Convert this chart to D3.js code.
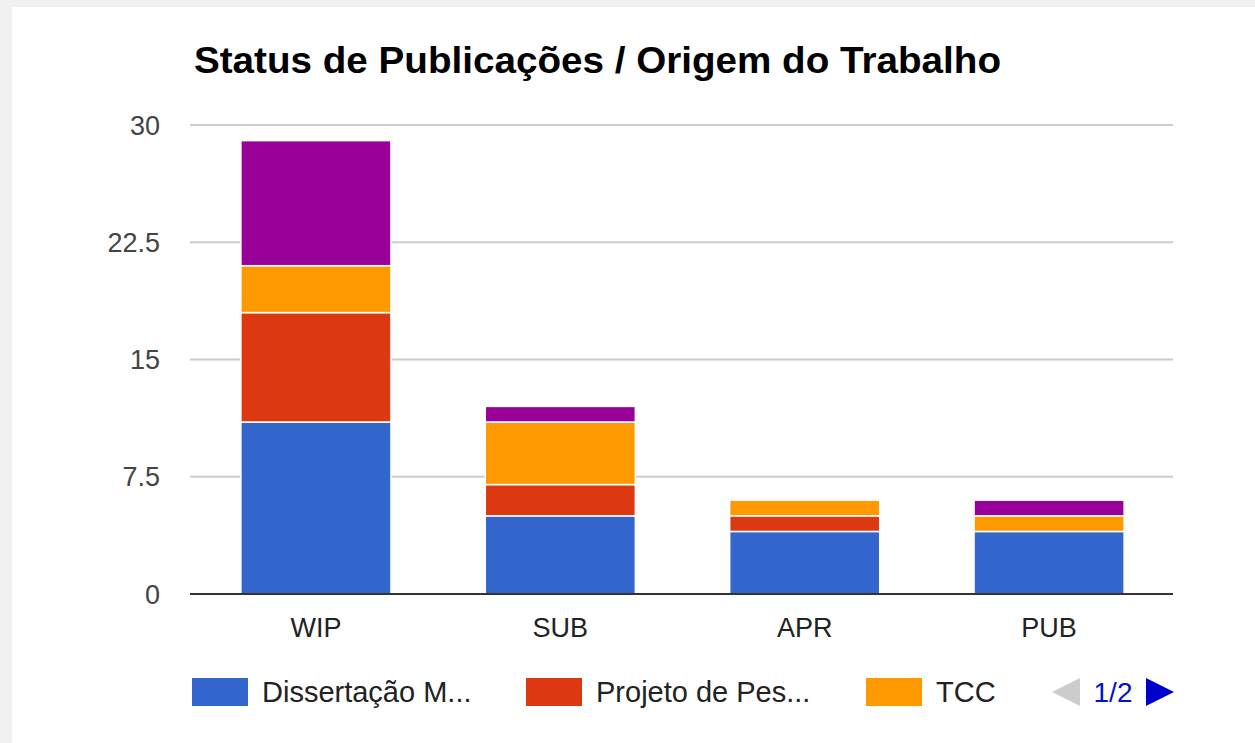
<!DOCTYPE html>
<html>
<head>
<meta charset="utf-8">
<script src="https://cdn.jsdelivr.net/npm/d3@7"></script>
<style>
  html, body { margin: 0; padding: 0; background: #f1f1f1; }
  svg { display: block; font-family: "Liberation Sans", Arial, sans-serif; }
</style>
</head>
<body>
<div id="chart"></div>
<script>
'use strict';

var categories = ['WIP', 'SUB', 'APR', 'PUB'];
var seriesNames = ['Dissertação M...', 'Projeto de Pes...', 'TCC', 'Outro'];
var seriesColors = ['#3366cc', '#dc3912', '#ff9900', '#990099'];
var dissertacao = [11, 5, 4, 4];
var projeto = [7, 2, 1, 0];
var tcc = [3, 4, 1, 1];
var outro = [8, 1, 0, 1];
var yTicks = [0, 7.5, 15, 22.5, 30];
var legendShown = [0, 1, 2];
var pageLabel = '1/2';

var W = 1255, H = 743;
var svg = d3.select('#chart').append('svg').attr('width', W).attr('height', H);

// white panel over the grey page
svg.append('rect').attr('x', 12).attr('y', 7).attr('width', W - 12).attr('height', H - 7).attr('fill', '#fff');

var x = d3.scaleBand().domain(categories).range([192, 1173]).paddingInner(0.386).paddingOuter(0.2);
var y = d3.scaleLinear().domain([0, 30]).range([594, 125]);

svg.append('text')
  .attr('x', 194).attr('y', 73)
  .attr('font-size', 37).attr('font-weight', 'bold').attr('fill', '#000')
  .attr('textLength', 807).attr('lengthAdjust', 'spacingAndGlyphs')
  .text('Status de Publicações / Origem do Trabalho');

// gridlines + tick labels
svg.selectAll('.grid').data(yTicks.slice(1)).enter().append('line')
  .attr('x1', 190).attr('x2', 1173)
  .attr('y1', function(d) { return y(d); }).attr('y2', function(d) { return y(d); })
  .attr('stroke', '#cccccc').attr('stroke-width', 2);

svg.selectAll('.ytick').data(yTicks).enter().append('text')
  .attr('x', 160).attr('y', function(d) { return y(d); }).attr('dy', '0.36em')
  .attr('text-anchor', 'end').attr('font-size', 27).attr('fill', '#444')
  .text(function(d) { return d; });

// stacked bars
var rows = categories.map(function(c, i) {
  return { cat: c, s0: dissertacao[i], s1: projeto[i], s2: tcc[i], s3: outro[i] };
});
var stack = d3.stack().keys(['s0', 's1', 's2', 's3'])(rows);

var layer = svg.selectAll('.layer').data(stack).enter().append('g')
  .attr('fill', function(d, i) { return seriesColors[i]; });

layer.selectAll('rect')
  .data(function(d) { return d.filter(function(p) { return p[1] > p[0]; }); })
  .enter().append('rect')
    .attr('x', function(d) { return x(d.data.cat); })
    .attr('width', x.bandwidth())
    .attr('y', function(d) { return y(d[1]); })
    .attr('height', function(d) { return y(d[0]) - y(d[1]); })
    .attr('stroke', '#fff').attr('stroke-width', 1.5);

// baseline
svg.append('line').attr('x1', 190).attr('x2', 1173).attr('y1', y(0)).attr('y2', y(0))
  .attr('stroke', '#333').attr('stroke-width', 2);

svg.selectAll('.xlab').data(categories).enter().append('text')
  .attr('x', function(d) { return x(d) + x.bandwidth() / 2; }).attr('y', 637)
  .attr('text-anchor', 'middle').attr('font-size', 27).attr('fill', '#222')
  .text(function(d) { return d; });

// legend (page 1 of 2)
var legendX = [192, 526, 866];
var lg = svg.selectAll('.leg').data(legendShown).enter().append('g')
  .attr('transform', function(d, i) { return 'translate(' + legendX[i] + ',678)'; });
lg.append('rect').attr('width', 56).attr('height', 28)
  .attr('fill', function(d) { return seriesColors[d]; });
lg.append('text').attr('x', 70).attr('y', 24).attr('font-size', 29).attr('fill', '#222')
  .text(function(d) { return seriesNames[d]; });

svg.append('path').attr('d', 'M1080,678 L1052,692 L1080,706 Z').attr('fill', '#cccccc');
svg.append('text').attr('x', 1113).attr('y', 702).attr('text-anchor', 'middle')
  .attr('font-size', 28).attr('fill', '#0011cc').text(pageLabel);
svg.append('path').attr('d', 'M1146,678 L1174,692 L1146,706 Z').attr('fill', '#0000cc');
</script>
</body>
</html>
